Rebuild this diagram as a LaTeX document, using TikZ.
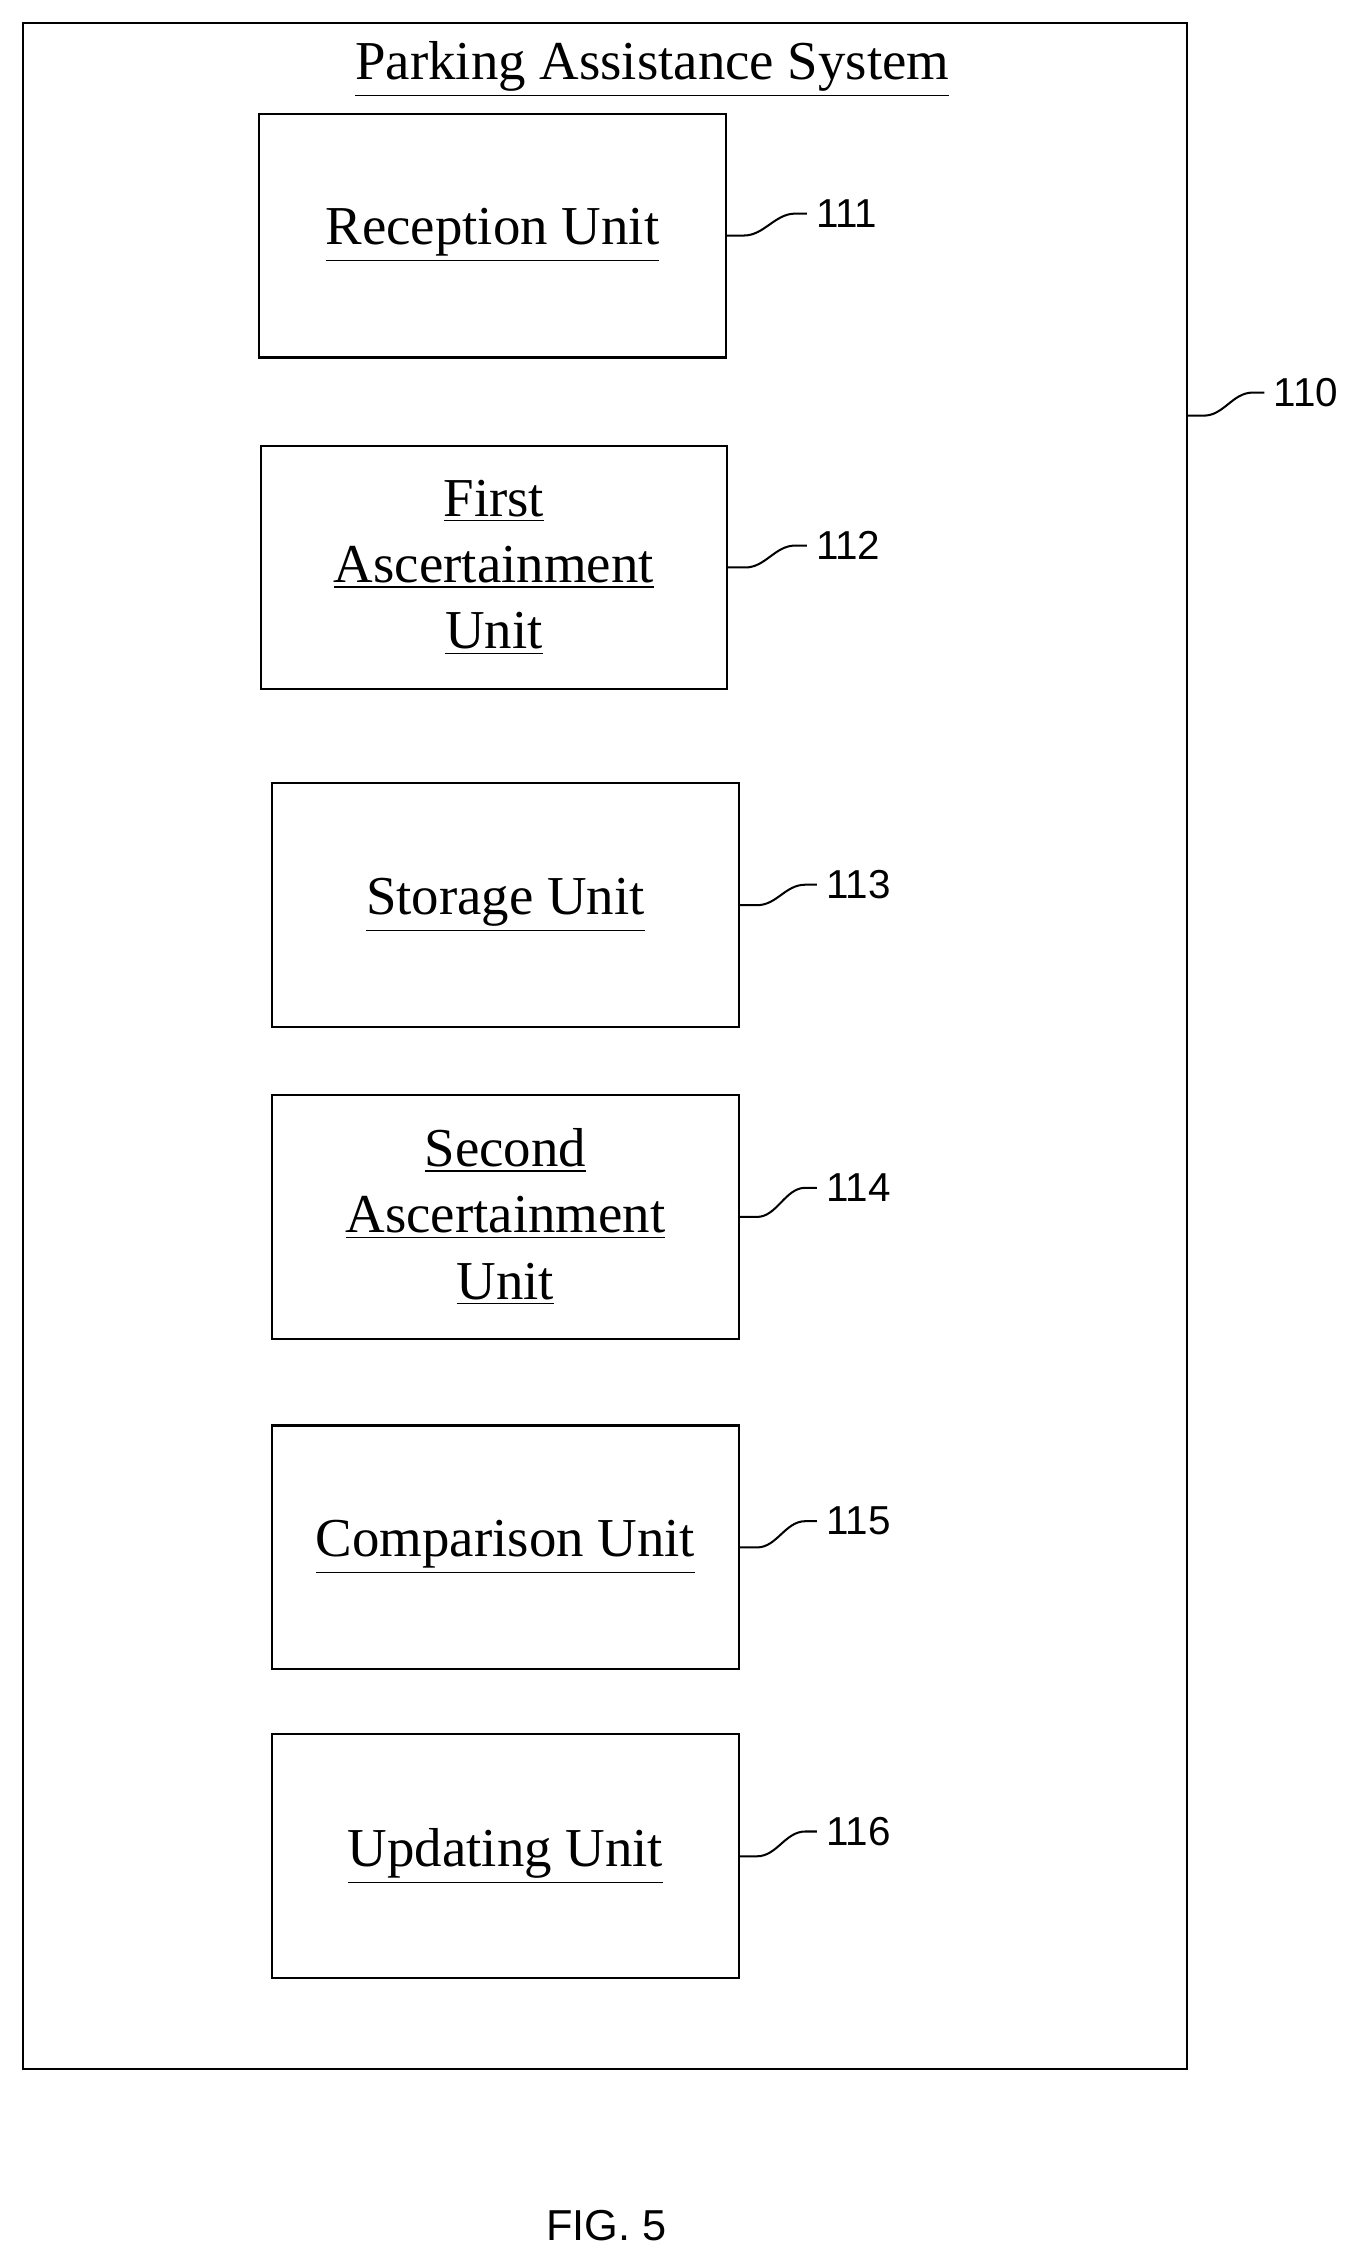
\documentclass[tikz,border=0pt]{standalone}
\usepackage{fontspec}
\setmainfont{Liberation Serif}
\newfontfamily\lab{Liberation Sans}
\begin{document}
\begin{tikzpicture}[x=0.5pt,y=-0.5pt,
  unit/.style={draw,line width=0.7pt,minimum width=161.5pt,minimum height=84.5pt,anchor=north west,inner sep=0pt,align=center,font=\fontsize{19}{23}\selectfont},
  num/.style={font=\lab\fontsize{14}{16}\selectfont,anchor=west,inner sep=1pt},
  lead/.style={line width=0.7pt}]
\useasboundingbox (0,0) rectangle (947,1568);
\node[draw,line width=0.7pt,minimum width=403.5pt,minimum height=709pt,anchor=north west,inner sep=0pt] (sys) at (15,15) {};
\node[font=\fontsize{19}{23}\selectfont] (title) at (452,48) {\underline{Parking Assistance System}};
\node[unit] (u1) at (179,78) {\underline{Reception Unit}};
\node[unit] (u2) at (180,308) {\underline{First}\\\underline{Ascertainment}\\\underline{Unit}};
\node[unit] (u3) at (188,542) {\underline{Storage Unit}};
\node[unit] (u4) at (188,758) {\underline{Second}\\\underline{Ascertainment}\\\underline{Unit}};
\node[unit] (u5) at (188,987) {\underline{Comparison Unit}};
\node[unit] (u6) at (188,1201) {\underline{Updating Unit}};
\coordinate (s110) at (822,288);
\foreach \b/\n/\x/\y in {u1.east/111/563/148,u2.east/112/563/378,u3.east/113/570/613,u4.east/114/570/823,u5.east/115/570/1054,u6.east/116/570/1269,s110/110/880/272}{
  \node[num] (l\n) at (\x,\y) {\n};
  \draw[lead] (\b) -- ++(12,0) .. controls ++(14,0) and ++(-14,0) .. ([xshift=-6pt]l\n.west) -- ([xshift=-2pt]l\n.west);
}
\node[font=\lab\fontsize{15}{17}\selectfont] (fig) at (420,1542) {FIG. 5};
\end{tikzpicture}
\end{document}
